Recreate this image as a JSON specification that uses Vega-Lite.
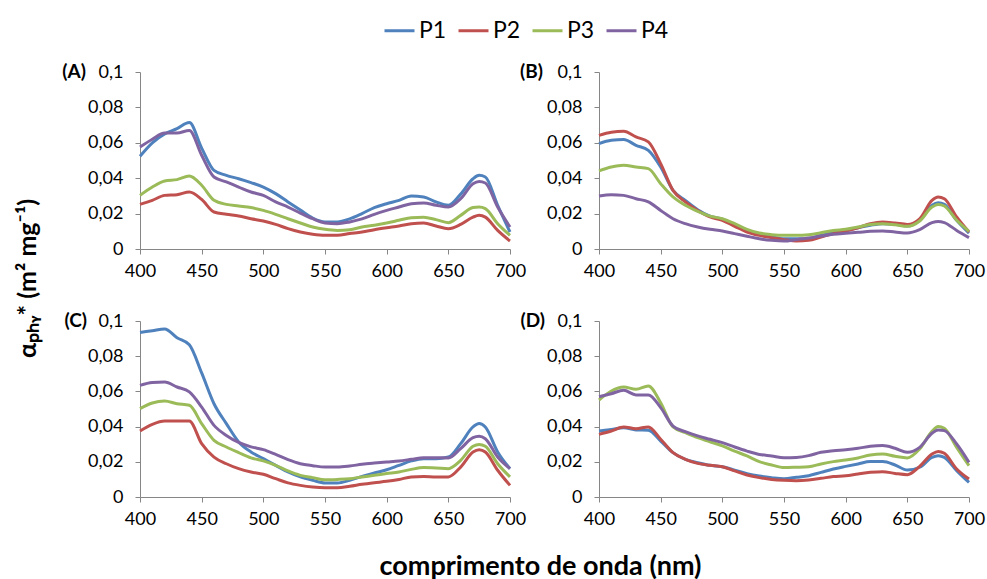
{
  "$schema": "https://vega.github.io/schema/vega-lite/v6.json",
  "padding": {"left": 15, "top": 14, "right": 2, "bottom": 2},
  "bounds": "flush",
  "columns": 2,
  "spacing": {"row": 72, "column": 89},
  "config": {
    "locale": {"number": {"decimal": ",", "thousands": ".", "grouping": [3], "currency": ["", " €"]}},
    "view": {"stroke": null},
    "font": "Lato",
    "axis": {"domainColor": "#868686", "tickColor": "#868686", "tickSize": 5, "labelFont": "Lato", "labelFontSize": 18, "labelColor": "#000", "grid": false, "titleFont": "Lato", "titleFontWeight": "bold", "titleColor": "#000", "labelOverlap": false, "labelFlush": false, "labelBound": false},
    "axisY": {"labelPadding": 12},
    "axisX": {"labelPadding": 8},
    "line": {"strokeWidth": 3, "interpolate": "monotone"},
    "text": {"font": "Lato", "fontWeight": "bold", "fontSize": 19, "color": "#000"}
  },
  "data": {"values": [
{"panel":"A","s":"P1","w":400,"v":0.0524},{"panel":"A","s":"P1","w":410,"v":0.060},{"panel":"A","s":"P1","w":420,"v":0.065},{"panel":"A","s":"P1","w":430,"v":0.068},{"panel":"A","s":"P1","w":440,"v":0.0714},{"panel":"A","s":"P1","w":450,"v":0.057},{"panel":"A","s":"P1","w":460,"v":0.0444},{"panel":"A","s":"P1","w":470,"v":0.0416},{"panel":"A","s":"P1","w":480,"v":0.0397},{"panel":"A","s":"P1","w":490,"v":0.0375},{"panel":"A","s":"P1","w":500,"v":0.035},{"panel":"A","s":"P1","w":510,"v":0.0313},{"panel":"A","s":"P1","w":520,"v":0.0266},{"panel":"A","s":"P1","w":530,"v":0.022},{"panel":"A","s":"P1","w":540,"v":0.0175},{"panel":"A","s":"P1","w":550,"v":0.0153},{"panel":"A","s":"P1","w":560,"v":0.0153},{"panel":"A","s":"P1","w":570,"v":0.017},{"panel":"A","s":"P1","w":580,"v":0.020},{"panel":"A","s":"P1","w":590,"v":0.0234},{"panel":"A","s":"P1","w":600,"v":0.0256},{"panel":"A","s":"P1","w":610,"v":0.0275},{"panel":"A","s":"P1","w":620,"v":0.030},{"panel":"A","s":"P1","w":630,"v":0.0294},{"panel":"A","s":"P1","w":640,"v":0.0266},{"panel":"A","s":"P1","w":650,"v":0.0247},{"panel":"A","s":"P1","w":660,"v":0.031},{"panel":"A","s":"P1","w":670,"v":0.0397},{"panel":"A","s":"P1","w":675,"v":0.0416},{"panel":"A","s":"P1","w":680,"v":0.0407},{"panel":"A","s":"P1","w":690,"v":0.0247},{"panel":"A","s":"P1","w":700,"v":0.0096},
{"panel":"A","s":"P2","w":400,"v":0.0252},{"panel":"A","s":"P2","w":410,"v":0.0275},{"panel":"A","s":"P2","w":420,"v":0.0303},{"panel":"A","s":"P2","w":430,"v":0.0307},{"panel":"A","s":"P2","w":440,"v":0.0322},{"panel":"A","s":"P2","w":450,"v":0.028},{"panel":"A","s":"P2","w":460,"v":0.0209},{"panel":"A","s":"P2","w":470,"v":0.0196},{"panel":"A","s":"P2","w":480,"v":0.0186},{"panel":"A","s":"P2","w":490,"v":0.0171},{"panel":"A","s":"P2","w":500,"v":0.0158},{"panel":"A","s":"P2","w":510,"v":0.0139},{"panel":"A","s":"P2","w":520,"v":0.0115},{"panel":"A","s":"P2","w":530,"v":0.0096},{"panel":"A","s":"P2","w":540,"v":0.0083},{"panel":"A","s":"P2","w":550,"v":0.0077},{"panel":"A","s":"P2","w":560,"v":0.0077},{"panel":"A","s":"P2","w":570,"v":0.0087},{"panel":"A","s":"P2","w":580,"v":0.0096},{"panel":"A","s":"P2","w":590,"v":0.0109},{"panel":"A","s":"P2","w":600,"v":0.012},{"panel":"A","s":"P2","w":610,"v":0.013},{"panel":"A","s":"P2","w":620,"v":0.0143},{"panel":"A","s":"P2","w":630,"v":0.0147},{"panel":"A","s":"P2","w":640,"v":0.013},{"panel":"A","s":"P2","w":650,"v":0.0115},{"panel":"A","s":"P2","w":660,"v":0.0139},{"panel":"A","s":"P2","w":670,"v":0.018},{"panel":"A","s":"P2","w":675,"v":0.019},{"panel":"A","s":"P2","w":680,"v":0.018},{"panel":"A","s":"P2","w":690,"v":0.0105},{"panel":"A","s":"P2","w":700,"v":0.0045},
{"panel":"A","s":"P3","w":400,"v":0.0303},{"panel":"A","s":"P3","w":410,"v":0.035},{"panel":"A","s":"P3","w":420,"v":0.0384},{"panel":"A","s":"P3","w":430,"v":0.0392},{"panel":"A","s":"P3","w":440,"v":0.0412},{"panel":"A","s":"P3","w":450,"v":0.036},{"panel":"A","s":"P3","w":460,"v":0.0275},{"panel":"A","s":"P3","w":470,"v":0.0252},{"panel":"A","s":"P3","w":480,"v":0.0243},{"panel":"A","s":"P3","w":490,"v":0.0234},{"panel":"A","s":"P3","w":500,"v":0.0218},{"panel":"A","s":"P3","w":510,"v":0.0196},{"panel":"A","s":"P3","w":520,"v":0.0171},{"panel":"A","s":"P3","w":530,"v":0.0147},{"panel":"A","s":"P3","w":540,"v":0.0124},{"panel":"A","s":"P3","w":550,"v":0.0111},{"panel":"A","s":"P3","w":560,"v":0.0105},{"panel":"A","s":"P3","w":570,"v":0.0109},{"panel":"A","s":"P3","w":580,"v":0.0124},{"panel":"A","s":"P3","w":590,"v":0.0134},{"panel":"A","s":"P3","w":600,"v":0.0147},{"panel":"A","s":"P3","w":610,"v":0.0162},{"panel":"A","s":"P3","w":620,"v":0.0177},{"panel":"A","s":"P3","w":630,"v":0.018},{"panel":"A","s":"P3","w":640,"v":0.0166},{"panel":"A","s":"P3","w":650,"v":0.0149},{"panel":"A","s":"P3","w":660,"v":0.019},{"panel":"A","s":"P3","w":670,"v":0.0234},{"panel":"A","s":"P3","w":675,"v":0.0237},{"panel":"A","s":"P3","w":680,"v":0.0228},{"panel":"A","s":"P3","w":690,"v":0.0143},{"panel":"A","s":"P3","w":700,"v":0.0077},
{"panel":"A","s":"P4","w":400,"v":0.0576},{"panel":"A","s":"P4","w":410,"v":0.062},{"panel":"A","s":"P4","w":420,"v":0.0655},{"panel":"A","s":"P4","w":430,"v":0.0655},{"panel":"A","s":"P4","w":440,"v":0.067},{"panel":"A","s":"P4","w":450,"v":0.053},{"panel":"A","s":"P4","w":460,"v":0.0407},{"panel":"A","s":"P4","w":470,"v":0.0379},{"panel":"A","s":"P4","w":480,"v":0.035},{"panel":"A","s":"P4","w":490,"v":0.0322},{"panel":"A","s":"P4","w":500,"v":0.0303},{"panel":"A","s":"P4","w":510,"v":0.0266},{"panel":"A","s":"P4","w":520,"v":0.0237},{"panel":"A","s":"P4","w":530,"v":0.0203},{"panel":"A","s":"P4","w":540,"v":0.0171},{"panel":"A","s":"P4","w":550,"v":0.0147},{"panel":"A","s":"P4","w":560,"v":0.0143},{"panel":"A","s":"P4","w":570,"v":0.0153},{"panel":"A","s":"P4","w":580,"v":0.017},{"panel":"A","s":"P4","w":590,"v":0.0196},{"panel":"A","s":"P4","w":600,"v":0.0218},{"panel":"A","s":"P4","w":610,"v":0.0237},{"panel":"A","s":"P4","w":620,"v":0.0256},{"panel":"A","s":"P4","w":630,"v":0.026},{"panel":"A","s":"P4","w":640,"v":0.0247},{"panel":"A","s":"P4","w":650,"v":0.0237},{"panel":"A","s":"P4","w":660,"v":0.0284},{"panel":"A","s":"P4","w":670,"v":0.0369},{"panel":"A","s":"P4","w":675,"v":0.0382},{"panel":"A","s":"P4","w":680,"v":0.0373},{"panel":"A","s":"P4","w":690,"v":0.0237},{"panel":"A","s":"P4","w":700,"v":0.0124},
{"panel":"B","s":"P1","w":400,"v":0.0595},{"panel":"B","s":"P1","w":410,"v":0.0614},{"panel":"B","s":"P1","w":420,"v":0.0618},{"panel":"B","s":"P1","w":430,"v":0.0586},{"panel":"B","s":"P1","w":440,"v":0.0557},{"panel":"B","s":"P1","w":450,"v":0.0463},{"panel":"B","s":"P1","w":460,"v":0.0331},{"panel":"B","s":"P1","w":470,"v":0.0275},{"panel":"B","s":"P1","w":480,"v":0.0222},{"panel":"B","s":"P1","w":490,"v":0.0186},{"panel":"B","s":"P1","w":500,"v":0.0168},{"panel":"B","s":"P1","w":510,"v":0.0134},{"panel":"B","s":"P1","w":520,"v":0.0105},{"panel":"B","s":"P1","w":530,"v":0.0083},{"panel":"B","s":"P1","w":540,"v":0.0068},{"panel":"B","s":"P1","w":550,"v":0.0058},{"panel":"B","s":"P1","w":560,"v":0.0058},{"panel":"B","s":"P1","w":570,"v":0.006},{"panel":"B","s":"P1","w":580,"v":0.0077},{"panel":"B","s":"P1","w":590,"v":0.0092},{"panel":"B","s":"P1","w":600,"v":0.0105},{"panel":"B","s":"P1","w":610,"v":0.012},{"panel":"B","s":"P1","w":620,"v":0.0134},{"panel":"B","s":"P1","w":630,"v":0.0143},{"panel":"B","s":"P1","w":640,"v":0.014},{"panel":"B","s":"P1","w":650,"v":0.013},{"panel":"B","s":"P1","w":660,"v":0.0162},{"panel":"B","s":"P1","w":670,"v":0.0247},{"panel":"B","s":"P1","w":675,"v":0.0262},{"panel":"B","s":"P1","w":680,"v":0.0252},{"panel":"B","s":"P1","w":690,"v":0.0162},{"panel":"B","s":"P1","w":700,"v":0.009},
{"panel":"B","s":"P2","w":400,"v":0.0642},{"panel":"B","s":"P2","w":410,"v":0.066},{"panel":"B","s":"P2","w":420,"v":0.0665},{"panel":"B","s":"P2","w":430,"v":0.0633},{"panel":"B","s":"P2","w":440,"v":0.0605},{"panel":"B","s":"P2","w":450,"v":0.0482},{"panel":"B","s":"P2","w":460,"v":0.0331},{"panel":"B","s":"P2","w":470,"v":0.0266},{"panel":"B","s":"P2","w":480,"v":0.0218},{"panel":"B","s":"P2","w":490,"v":0.0181},{"panel":"B","s":"P2","w":500,"v":0.0162},{"panel":"B","s":"P2","w":510,"v":0.0128},{"panel":"B","s":"P2","w":520,"v":0.0096},{"panel":"B","s":"P2","w":530,"v":0.0077},{"panel":"B","s":"P2","w":540,"v":0.0064},{"panel":"B","s":"P2","w":550,"v":0.0053},{"panel":"B","s":"P2","w":560,"v":0.0045},{"panel":"B","s":"P2","w":570,"v":0.0049},{"panel":"B","s":"P2","w":580,"v":0.0068},{"panel":"B","s":"P2","w":590,"v":0.0087},{"panel":"B","s":"P2","w":600,"v":0.0102},{"panel":"B","s":"P2","w":610,"v":0.012},{"panel":"B","s":"P2","w":620,"v":0.0143},{"panel":"B","s":"P2","w":630,"v":0.0153},{"panel":"B","s":"P2","w":640,"v":0.0147},{"panel":"B","s":"P2","w":650,"v":0.0139},{"panel":"B","s":"P2","w":660,"v":0.0171},{"panel":"B","s":"P2","w":670,"v":0.0275},{"panel":"B","s":"P2","w":675,"v":0.0294},{"panel":"B","s":"P2","w":680,"v":0.0284},{"panel":"B","s":"P2","w":690,"v":0.0181},{"panel":"B","s":"P2","w":700,"v":0.0096},
{"panel":"B","s":"P3","w":400,"v":0.0441},{"panel":"B","s":"P3","w":410,"v":0.0463},{"panel":"B","s":"P3","w":420,"v":0.0473},{"panel":"B","s":"P3","w":430,"v":0.0463},{"panel":"B","s":"P3","w":440,"v":0.0454},{"panel":"B","s":"P3","w":450,"v":0.0369},{"panel":"B","s":"P3","w":460,"v":0.0294},{"panel":"B","s":"P3","w":470,"v":0.0247},{"panel":"B","s":"P3","w":480,"v":0.0213},{"panel":"B","s":"P3","w":490,"v":0.0186},{"panel":"B","s":"P3","w":500,"v":0.0171},{"panel":"B","s":"P3","w":510,"v":0.0143},{"panel":"B","s":"P3","w":520,"v":0.0111},{"panel":"B","s":"P3","w":530,"v":0.009},{"panel":"B","s":"P3","w":540,"v":0.0081},{"panel":"B","s":"P3","w":550,"v":0.0077},{"panel":"B","s":"P3","w":560,"v":0.0077},{"panel":"B","s":"P3","w":570,"v":0.0081},{"panel":"B","s":"P3","w":580,"v":0.0092},{"panel":"B","s":"P3","w":590,"v":0.0105},{"panel":"B","s":"P3","w":600,"v":0.0111},{"panel":"B","s":"P3","w":610,"v":0.0124},{"panel":"B","s":"P3","w":620,"v":0.0139},{"panel":"B","s":"P3","w":630,"v":0.0143},{"panel":"B","s":"P3","w":640,"v":0.0137},{"panel":"B","s":"P3","w":650,"v":0.0128},{"panel":"B","s":"P3","w":660,"v":0.0158},{"panel":"B","s":"P3","w":670,"v":0.0237},{"panel":"B","s":"P3","w":675,"v":0.0252},{"panel":"B","s":"P3","w":680,"v":0.0243},{"panel":"B","s":"P3","w":690,"v":0.0162},{"panel":"B","s":"P3","w":700,"v":0.01},
{"panel":"B","s":"P4","w":400,"v":0.030},{"panel":"B","s":"P4","w":410,"v":0.0307},{"panel":"B","s":"P4","w":420,"v":0.0303},{"panel":"B","s":"P4","w":430,"v":0.0284},{"panel":"B","s":"P4","w":440,"v":0.0266},{"panel":"B","s":"P4","w":450,"v":0.0218},{"panel":"B","s":"P4","w":460,"v":0.0171},{"panel":"B","s":"P4","w":470,"v":0.0143},{"panel":"B","s":"P4","w":480,"v":0.0124},{"panel":"B","s":"P4","w":490,"v":0.0111},{"panel":"B","s":"P4","w":500,"v":0.0102},{"panel":"B","s":"P4","w":510,"v":0.0087},{"panel":"B","s":"P4","w":520,"v":0.0072},{"panel":"B","s":"P4","w":530,"v":0.0058},{"panel":"B","s":"P4","w":540,"v":0.0049},{"panel":"B","s":"P4","w":550,"v":0.0045},{"panel":"B","s":"P4","w":560,"v":0.0053},{"panel":"B","s":"P4","w":570,"v":0.0062},{"panel":"B","s":"P4","w":580,"v":0.0073},{"panel":"B","s":"P4","w":590,"v":0.0083},{"panel":"B","s":"P4","w":600,"v":0.0089},{"panel":"B","s":"P4","w":610,"v":0.0094},{"panel":"B","s":"P4","w":620,"v":0.01},{"panel":"B","s":"P4","w":630,"v":0.0102},{"panel":"B","s":"P4","w":640,"v":0.0096},{"panel":"B","s":"P4","w":650,"v":0.009},{"panel":"B","s":"P4","w":660,"v":0.0109},{"panel":"B","s":"P4","w":670,"v":0.0149},{"panel":"B","s":"P4","w":675,"v":0.0156},{"panel":"B","s":"P4","w":680,"v":0.0149},{"panel":"B","s":"P4","w":690,"v":0.0105},{"panel":"B","s":"P4","w":700,"v":0.0064},
{"panel":"C","s":"P1","w":400,"v":0.0935},{"panel":"C","s":"P1","w":410,"v":0.0945},{"panel":"C","s":"P1","w":420,"v":0.0955},{"panel":"C","s":"P1","w":430,"v":0.0905},{"panel":"C","s":"P1","w":440,"v":0.0865},{"panel":"C","s":"P1","w":450,"v":0.0705},{"panel":"C","s":"P1","w":460,"v":0.053},{"panel":"C","s":"P1","w":470,"v":0.0417},{"panel":"C","s":"P1","w":480,"v":0.0313},{"panel":"C","s":"P1","w":490,"v":0.0256},{"panel":"C","s":"P1","w":500,"v":0.0218},{"panel":"C","s":"P1","w":510,"v":0.018},{"panel":"C","s":"P1","w":520,"v":0.0142},{"panel":"C","s":"P1","w":530,"v":0.0114},{"panel":"C","s":"P1","w":540,"v":0.0095},{"panel":"C","s":"P1","w":550,"v":0.008},{"panel":"C","s":"P1","w":560,"v":0.008},{"panel":"C","s":"P1","w":570,"v":0.0095},{"panel":"C","s":"P1","w":580,"v":0.0117},{"panel":"C","s":"P1","w":590,"v":0.0136},{"panel":"C","s":"P1","w":600,"v":0.0155},{"panel":"C","s":"P1","w":610,"v":0.018},{"panel":"C","s":"P1","w":620,"v":0.0205},{"panel":"C","s":"P1","w":630,"v":0.0218},{"panel":"C","s":"P1","w":640,"v":0.0218},{"panel":"C","s":"P1","w":650,"v":0.0227},{"panel":"C","s":"P1","w":660,"v":0.0303},{"panel":"C","s":"P1","w":670,"v":0.0398},{"panel":"C","s":"P1","w":675,"v":0.0417},{"panel":"C","s":"P1","w":680,"v":0.0398},{"panel":"C","s":"P1","w":690,"v":0.0256},{"panel":"C","s":"P1","w":700,"v":0.0161},
{"panel":"C","s":"P2","w":400,"v":0.0375},{"panel":"C","s":"P2","w":410,"v":0.0413},{"panel":"C","s":"P2","w":420,"v":0.0432},{"panel":"C","s":"P2","w":430,"v":0.0432},{"panel":"C","s":"P2","w":440,"v":0.0432},{"panel":"C","s":"P2","w":450,"v":0.0303},{"panel":"C","s":"P2","w":460,"v":0.0227},{"panel":"C","s":"P2","w":470,"v":0.0189},{"panel":"C","s":"P2","w":480,"v":0.0161},{"panel":"C","s":"P2","w":490,"v":0.0142},{"panel":"C","s":"P2","w":500,"v":0.0129},{"panel":"C","s":"P2","w":510,"v":0.0104},{"panel":"C","s":"P2","w":520,"v":0.008},{"panel":"C","s":"P2","w":530,"v":0.0066},{"panel":"C","s":"P2","w":540,"v":0.0057},{"panel":"C","s":"P2","w":550,"v":0.0053},{"panel":"C","s":"P2","w":560,"v":0.0053},{"panel":"C","s":"P2","w":570,"v":0.0061},{"panel":"C","s":"P2","w":580,"v":0.0072},{"panel":"C","s":"P2","w":590,"v":0.0081},{"panel":"C","s":"P2","w":600,"v":0.0089},{"panel":"C","s":"P2","w":610,"v":0.01},{"panel":"C","s":"P2","w":620,"v":0.0114},{"panel":"C","s":"P2","w":630,"v":0.0117},{"panel":"C","s":"P2","w":640,"v":0.0114},{"panel":"C","s":"P2","w":650,"v":0.0114},{"panel":"C","s":"P2","w":660,"v":0.017},{"panel":"C","s":"P2","w":670,"v":0.0256},{"panel":"C","s":"P2","w":675,"v":0.0269},{"panel":"C","s":"P2","w":680,"v":0.0256},{"panel":"C","s":"P2","w":690,"v":0.0152},{"panel":"C","s":"P2","w":700,"v":0.0066},
{"panel":"C","s":"P3","w":400,"v":0.0502},{"panel":"C","s":"P3","w":410,"v":0.0534},{"panel":"C","s":"P3","w":420,"v":0.0545},{"panel":"C","s":"P3","w":430,"v":0.053},{"panel":"C","s":"P3","w":440,"v":0.0521},{"panel":"C","s":"P3","w":450,"v":0.0417},{"panel":"C","s":"P3","w":460,"v":0.0322},{"panel":"C","s":"P3","w":470,"v":0.0284},{"panel":"C","s":"P3","w":480,"v":0.0252},{"panel":"C","s":"P3","w":490,"v":0.0222},{"panel":"C","s":"P3","w":500,"v":0.0205},{"panel":"C","s":"P3","w":510,"v":0.018},{"panel":"C","s":"P3","w":520,"v":0.0148},{"panel":"C","s":"P3","w":530,"v":0.0123},{"panel":"C","s":"P3","w":540,"v":0.011},{"panel":"C","s":"P3","w":550,"v":0.0098},{"panel":"C","s":"P3","w":560,"v":0.01},{"panel":"C","s":"P3","w":570,"v":0.0104},{"panel":"C","s":"P3","w":580,"v":0.0114},{"panel":"C","s":"P3","w":590,"v":0.0123},{"panel":"C","s":"P3","w":600,"v":0.0133},{"panel":"C","s":"P3","w":610,"v":0.0142},{"panel":"C","s":"P3","w":620,"v":0.0157},{"panel":"C","s":"P3","w":630,"v":0.0167},{"panel":"C","s":"P3","w":640,"v":0.0165},{"panel":"C","s":"P3","w":650,"v":0.0161},{"panel":"C","s":"P3","w":660,"v":0.0208},{"panel":"C","s":"P3","w":670,"v":0.0288},{"panel":"C","s":"P3","w":675,"v":0.0299},{"panel":"C","s":"P3","w":680,"v":0.0288},{"panel":"C","s":"P3","w":690,"v":0.0189},{"panel":"C","s":"P3","w":700,"v":0.0114},
{"panel":"C","s":"P4","w":400,"v":0.0634},{"panel":"C","s":"P4","w":410,"v":0.065},{"panel":"C","s":"P4","w":420,"v":0.0653},{"panel":"C","s":"P4","w":430,"v":0.0625},{"panel":"C","s":"P4","w":440,"v":0.0597},{"panel":"C","s":"P4","w":450,"v":0.0511},{"panel":"C","s":"P4","w":460,"v":0.0407},{"panel":"C","s":"P4","w":470,"v":0.035},{"panel":"C","s":"P4","w":480,"v":0.031},{"panel":"C","s":"P4","w":490,"v":0.0285},{"panel":"C","s":"P4","w":500,"v":0.0269},{"panel":"C","s":"P4","w":510,"v":0.0242},{"panel":"C","s":"P4","w":520,"v":0.0212},{"panel":"C","s":"P4","w":530,"v":0.0189},{"panel":"C","s":"P4","w":540,"v":0.0178},{"panel":"C","s":"P4","w":550,"v":0.017},{"panel":"C","s":"P4","w":560,"v":0.017},{"panel":"C","s":"P4","w":570,"v":0.0176},{"panel":"C","s":"P4","w":580,"v":0.0186},{"panel":"C","s":"P4","w":590,"v":0.0193},{"panel":"C","s":"P4","w":600,"v":0.0199},{"panel":"C","s":"P4","w":610,"v":0.0205},{"panel":"C","s":"P4","w":620,"v":0.0214},{"panel":"C","s":"P4","w":630,"v":0.0223},{"panel":"C","s":"P4","w":640,"v":0.0223},{"panel":"C","s":"P4","w":650,"v":0.0222},{"panel":"C","s":"P4","w":660,"v":0.0275},{"panel":"C","s":"P4","w":670,"v":0.0337},{"panel":"C","s":"P4","w":675,"v":0.0345},{"panel":"C","s":"P4","w":680,"v":0.0331},{"panel":"C","s":"P4","w":690,"v":0.0227},{"panel":"C","s":"P4","w":700,"v":0.0161},
{"panel":"D","s":"P1","w":400,"v":0.0375},{"panel":"D","s":"P1","w":410,"v":0.0384},{"panel":"D","s":"P1","w":420,"v":0.0394},{"panel":"D","s":"P1","w":430,"v":0.0381},{"panel":"D","s":"P1","w":440,"v":0.0379},{"panel":"D","s":"P1","w":450,"v":0.0318},{"panel":"D","s":"P1","w":460,"v":0.0252},{"panel":"D","s":"P1","w":470,"v":0.0214},{"panel":"D","s":"P1","w":480,"v":0.0195},{"panel":"D","s":"P1","w":490,"v":0.018},{"panel":"D","s":"P1","w":500,"v":0.0172},{"panel":"D","s":"P1","w":510,"v":0.0153},{"panel":"D","s":"P1","w":520,"v":0.0133},{"panel":"D","s":"P1","w":530,"v":0.0119},{"panel":"D","s":"P1","w":540,"v":0.011},{"panel":"D","s":"P1","w":550,"v":0.0104},{"panel":"D","s":"P1","w":560,"v":0.0112},{"panel":"D","s":"P1","w":570,"v":0.0121},{"panel":"D","s":"P1","w":580,"v":0.014},{"panel":"D","s":"P1","w":590,"v":0.0159},{"panel":"D","s":"P1","w":600,"v":0.0174},{"panel":"D","s":"P1","w":610,"v":0.0188},{"panel":"D","s":"P1","w":620,"v":0.0201},{"panel":"D","s":"P1","w":630,"v":0.0201},{"panel":"D","s":"P1","w":640,"v":0.0182},{"panel":"D","s":"P1","w":650,"v":0.0153},{"panel":"D","s":"P1","w":660,"v":0.0169},{"panel":"D","s":"P1","w":670,"v":0.0225},{"panel":"D","s":"P1","w":675,"v":0.0235},{"panel":"D","s":"P1","w":680,"v":0.0225},{"panel":"D","s":"P1","w":690,"v":0.015},{"panel":"D","s":"P1","w":700,"v":0.0083},
{"panel":"D","s":"P2","w":400,"v":0.0356},{"panel":"D","s":"P2","w":410,"v":0.0375},{"panel":"D","s":"P2","w":420,"v":0.0398},{"panel":"D","s":"P2","w":430,"v":0.0388},{"panel":"D","s":"P2","w":440,"v":0.0398},{"panel":"D","s":"P2","w":450,"v":0.0328},{"panel":"D","s":"P2","w":460,"v":0.0252},{"panel":"D","s":"P2","w":470,"v":0.0214},{"panel":"D","s":"P2","w":480,"v":0.0191},{"panel":"D","s":"P2","w":490,"v":0.018},{"panel":"D","s":"P2","w":500,"v":0.0172},{"panel":"D","s":"P2","w":510,"v":0.0148},{"panel":"D","s":"P2","w":520,"v":0.0125},{"panel":"D","s":"P2","w":530,"v":0.011},{"panel":"D","s":"P2","w":540,"v":0.01},{"panel":"D","s":"P2","w":550,"v":0.0095},{"panel":"D","s":"P2","w":560,"v":0.0093},{"panel":"D","s":"P2","w":570,"v":0.0097},{"panel":"D","s":"P2","w":580,"v":0.0106},{"panel":"D","s":"P2","w":590,"v":0.0116},{"panel":"D","s":"P2","w":600,"v":0.0121},{"panel":"D","s":"P2","w":610,"v":0.0131},{"panel":"D","s":"P2","w":620,"v":0.014},{"panel":"D","s":"P2","w":630,"v":0.0144},{"panel":"D","s":"P2","w":640,"v":0.0134},{"panel":"D","s":"P2","w":650,"v":0.0127},{"panel":"D","s":"P2","w":660,"v":0.0174},{"panel":"D","s":"P2","w":670,"v":0.0244},{"panel":"D","s":"P2","w":675,"v":0.0259},{"panel":"D","s":"P2","w":680,"v":0.0248},{"panel":"D","s":"P2","w":690,"v":0.0159},{"panel":"D","s":"P2","w":700,"v":0.0102},
{"panel":"D","s":"P3","w":400,"v":0.0551},{"panel":"D","s":"P3","w":410,"v":0.0602},{"panel":"D","s":"P3","w":420,"v":0.0625},{"panel":"D","s":"P3","w":430,"v":0.0612},{"panel":"D","s":"P3","w":440,"v":0.0631},{"panel":"D","s":"P3","w":450,"v":0.0536},{"panel":"D","s":"P3","w":460,"v":0.0398},{"panel":"D","s":"P3","w":470,"v":0.0366},{"panel":"D","s":"P3","w":480,"v":0.0337},{"panel":"D","s":"P3","w":490,"v":0.0314},{"panel":"D","s":"P3","w":500,"v":0.029},{"panel":"D","s":"P3","w":510,"v":0.0261},{"panel":"D","s":"P3","w":520,"v":0.0233},{"panel":"D","s":"P3","w":530,"v":0.0201},{"panel":"D","s":"P3","w":540,"v":0.0182},{"panel":"D","s":"P3","w":550,"v":0.0167},{"panel":"D","s":"P3","w":560,"v":0.0169},{"panel":"D","s":"P3","w":570,"v":0.0172},{"panel":"D","s":"P3","w":580,"v":0.0188},{"panel":"D","s":"P3","w":590,"v":0.0201},{"panel":"D","s":"P3","w":600,"v":0.021},{"panel":"D","s":"P3","w":610,"v":0.0222},{"panel":"D","s":"P3","w":620,"v":0.0239},{"panel":"D","s":"P3","w":630,"v":0.0244},{"panel":"D","s":"P3","w":640,"v":0.0231},{"panel":"D","s":"P3","w":650,"v":0.0222},{"panel":"D","s":"P3","w":660,"v":0.0273},{"panel":"D","s":"P3","w":670,"v":0.0373},{"panel":"D","s":"P3","w":675,"v":0.04},{"panel":"D","s":"P3","w":680,"v":0.039},{"panel":"D","s":"P3","w":690,"v":0.0282},{"panel":"D","s":"P3","w":700,"v":0.0178},
{"panel":"D","s":"P4","w":400,"v":0.057},{"panel":"D","s":"P4","w":410,"v":0.0587},{"panel":"D","s":"P4","w":420,"v":0.0606},{"panel":"D","s":"P4","w":430,"v":0.058},{"panel":"D","s":"P4","w":440,"v":0.058},{"panel":"D","s":"P4","w":450,"v":0.0508},{"panel":"D","s":"P4","w":460,"v":0.0403},{"panel":"D","s":"P4","w":470,"v":0.0371},{"panel":"D","s":"P4","w":480,"v":0.0347},{"panel":"D","s":"P4","w":490,"v":0.0328},{"panel":"D","s":"P4","w":500,"v":0.0309},{"panel":"D","s":"P4","w":510,"v":0.0284},{"panel":"D","s":"P4","w":520,"v":0.0261},{"panel":"D","s":"P4","w":530,"v":0.0242},{"panel":"D","s":"P4","w":540,"v":0.0233},{"panel":"D","s":"P4","w":550,"v":0.0223},{"panel":"D","s":"P4","w":560,"v":0.0225},{"panel":"D","s":"P4","w":570,"v":0.0235},{"panel":"D","s":"P4","w":580,"v":0.0254},{"panel":"D","s":"P4","w":590,"v":0.0263},{"panel":"D","s":"P4","w":600,"v":0.0269},{"panel":"D","s":"P4","w":610,"v":0.0277},{"panel":"D","s":"P4","w":620,"v":0.0288},{"panel":"D","s":"P4","w":630,"v":0.0292},{"panel":"D","s":"P4","w":640,"v":0.0277},{"panel":"D","s":"P4","w":650,"v":0.0254},{"panel":"D","s":"P4","w":660,"v":0.0282},{"panel":"D","s":"P4","w":670,"v":0.0362},{"panel":"D","s":"P4","w":675,"v":0.0381},{"panel":"D","s":"P4","w":680,"v":0.0377},{"panel":"D","s":"P4","w":690,"v":0.0301},{"panel":"D","s":"P4","w":700,"v":0.0197}
  ]},
  "concat": [
    {
      "width": 370, "height": 177,
      "layer": [
        {
          "transform": [{"filter": "datum.panel === 'A'"}],
          "mark": {"type": "line"},
          "encoding": {
            "x": {"field": "w", "type": "quantitative", "scale": {"domain": [400, 700]}, "axis": {"values": [400, 450, 500, 550, 600, 650, 700], "labelOverlap": false, "title": null}},
            "y": {"field": "v", "type": "quantitative", "scale": {"domain": [0, 0.1]}, "axis": {"values": [0, 0.02, 0.04, 0.06, 0.08, 0.1], "tickCount": 6, "labelOverlap": false, "format": "~g", "title": "αₚₕᵧ* (m² mg⁻¹)", "titleX": -113, "titleY": 206, "titleAngle": 270, "titleAlign": "center", "titleBaseline": "middle", "titleFontSize": 25}},
            "color": {"field": "s", "type": "nominal", "scale": {"domain": ["P1", "P2", "P3", "P4"], "range": ["#4F81BD", "#C0504D", "#9BBB59", "#8064A2"]}, "legend": {"orient": "none", "legendX": 243, "legendY": -58, "direction": "horizontal", "title": null, "symbolType": "stroke", "symbolSize": 900, "symbolStrokeWidth": 3, "labelFontSize": 23, "labelFont": "Lato", "labelColor": "#000", "labelOffset": 3, "columnPadding": 5}}
          }
        },
        {
          "data": {"values": [{"label": "(A)"}]},
          "mark": {"type": "text", "dx": -54, "align": "right", "baseline": "middle"},
          "encoding": {"x": {"datum": 400}, "y": {"datum": 0.1}, "text": {"field": "label"}}
        }
      ]
    },
    {
      "width": 370, "height": 177,
      "layer": [
        {
          "transform": [{"filter": "datum.panel === 'B'"}],
          "mark": {"type": "line"},
          "encoding": {
            "x": {"field": "w", "type": "quantitative", "scale": {"domain": [400, 700]}, "axis": {"values": [400, 450, 500, 550, 600, 650, 700], "labelOverlap": false, "title": null}},
            "y": {"field": "v", "type": "quantitative", "scale": {"domain": [0, 0.1]}, "axis": {"values": [0, 0.02, 0.04, 0.06, 0.08, 0.1], "tickCount": 6, "labelOverlap": false, "format": "~g", "title": null}},
            "color": {"field": "s", "type": "nominal", "scale": {"domain": ["P1", "P2", "P3", "P4"], "range": ["#4F81BD", "#C0504D", "#9BBB59", "#8064A2"]}, "legend": {"orient": "none", "legendX": 243, "legendY": -58, "direction": "horizontal", "title": null, "symbolType": "stroke", "symbolSize": 900, "symbolStrokeWidth": 3, "labelFontSize": 23, "labelFont": "Lato", "labelColor": "#000", "labelOffset": 3, "columnPadding": 5}}
          }
        },
        {
          "data": {"values": [{"label": "(B)"}]},
          "mark": {"type": "text", "dx": -56, "align": "right", "baseline": "middle"},
          "encoding": {"x": {"datum": 400}, "y": {"datum": 0.1}, "text": {"field": "label"}}
        }
      ]
    },
    {
      "width": 370, "height": 176,
      "layer": [
        {
          "transform": [{"filter": "datum.panel === 'C'"}],
          "mark": {"type": "line"},
          "encoding": {
            "x": {"field": "w", "type": "quantitative", "scale": {"domain": [400, 700]}, "axis": {"values": [400, 450, 500, 550, 600, 650, 700], "labelOverlap": false, "title": "comprimento de onda (nm)", "titleX": 400, "titleY": 69, "titleAlign": "center", "titleBaseline": "middle", "titleFontSize": 27}},
            "y": {"field": "v", "type": "quantitative", "scale": {"domain": [0, 0.1]}, "axis": {"values": [0, 0.02, 0.04, 0.06, 0.08, 0.1], "tickCount": 6, "labelOverlap": false, "format": "~g", "title": null}},
            "color": {"field": "s", "type": "nominal", "scale": {"domain": ["P1", "P2", "P3", "P4"], "range": ["#4F81BD", "#C0504D", "#9BBB59", "#8064A2"]}, "legend": {"orient": "none", "legendX": 243, "legendY": -58, "direction": "horizontal", "title": null, "symbolType": "stroke", "symbolSize": 900, "symbolStrokeWidth": 3, "labelFontSize": 23, "labelFont": "Lato", "labelColor": "#000", "labelOffset": 3, "columnPadding": 5}}
          }
        },
        {
          "data": {"values": [{"label": "(C)"}]},
          "mark": {"type": "text", "dx": -53, "align": "right", "baseline": "middle"},
          "encoding": {"x": {"datum": 400}, "y": {"datum": 0.1}, "text": {"field": "label"}}
        }
      ]
    },
    {
      "width": 370, "height": 176,
      "layer": [
        {
          "transform": [{"filter": "datum.panel === 'D'"}],
          "mark": {"type": "line"},
          "encoding": {
            "x": {"field": "w", "type": "quantitative", "scale": {"domain": [400, 700]}, "axis": {"values": [400, 450, 500, 550, 600, 650, 700], "labelOverlap": false, "title": null}},
            "y": {"field": "v", "type": "quantitative", "scale": {"domain": [0, 0.1]}, "axis": {"values": [0, 0.02, 0.04, 0.06, 0.08, 0.1], "tickCount": 6, "labelOverlap": false, "format": "~g", "title": null}},
            "color": {"field": "s", "type": "nominal", "scale": {"domain": ["P1", "P2", "P3", "P4"], "range": ["#4F81BD", "#C0504D", "#9BBB59", "#8064A2"]}, "legend": {"orient": "none", "legendX": 243, "legendY": -58, "direction": "horizontal", "title": null, "symbolType": "stroke", "symbolSize": 900, "symbolStrokeWidth": 3, "labelFontSize": 23, "labelFont": "Lato", "labelColor": "#000", "labelOffset": 3, "columnPadding": 5}}
          }
        },
        {
          "data": {"values": [{"label": "(D)"}]},
          "mark": {"type": "text", "dx": -54, "align": "right", "baseline": "middle"},
          "encoding": {"x": {"datum": 400}, "y": {"datum": 0.1}, "text": {"field": "label"}}
        }
      ]
    }
  ]
}
